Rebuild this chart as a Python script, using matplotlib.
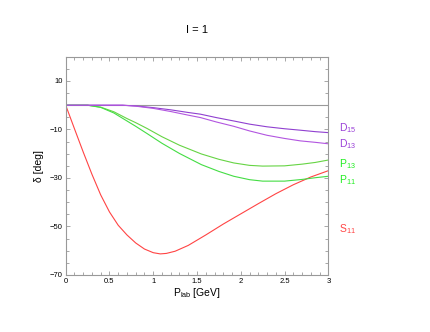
import matplotlib
matplotlib.use('Agg')
import matplotlib.pyplot as plt
from matplotlib.ticker import MultipleLocator

plt.rcParams['font.family'] = ['Liberation Sans', 'DejaVu Sans']
plt.rcParams['mathtext.fontset'] = 'custom'
plt.rcParams['mathtext.rm'] = 'Liberation Sans'
plt.rcParams['mathtext.it'] = 'Liberation Sans:italic'

# phase shifts, delta [deg] vs P_lab [GeV]
s11_p = [0, 0.1, 0.2, 0.3, 0.4, 0.5, 0.6, 0.7, 0.8, 0.9, 1.0, 1.08, 1.15, 1.25,
         1.4, 1.6, 1.8, 2.0, 2.2, 2.4, 2.6, 2.8, 3.0]
s11_d = [0, -9.7, -19.3, -28.5, -37, -44, -49.5, -53.5, -56.8, -59.3, -60.8, -61.3,
         -61.1, -60.2, -57.8, -53.5, -49, -44.8, -40.6, -36.5, -32.8, -29.6, -27]

p_p = [0, 0.25, 0.4, 0.55, 0.7, 0.8, 0.93, 1.1, 1.3, 1.55, 1.75, 1.92, 2.1, 2.25,
       2.5, 2.7, 2.85, 3.0]
p13_d = [0, 0, -0.8, -2.7, -5.5, -7.2, -9.6, -13.0, -16.5, -20.1, -22.3, -23.8,
         -24.8, -25.1, -25.0, -24.3, -23.6, -22.6]
p11_d = [0, 0, -0.9, -3.2, -6.5, -8.7, -11.7, -15.7, -19.9, -24.5, -27.3, -29.3,
         -30.7, -31.3, -31.3, -30.6, -29.9, -29.3]

d_p = [0, 0.65, 0.8, 1.0, 1.2, 1.4, 1.54, 1.72, 1.92, 2.1, 2.3, 2.5, 2.68, 2.85, 3.0]
d15_d = [0, 0, -0.3, -1.0, -1.9, -3.0, -3.7, -5.1, -6.5, -7.8, -8.9, -9.7, -10.3,
         -10.9, -11.3]
d13_d = [0, 0, -0.4, -1.3, -2.6, -4.1, -5.1, -6.9, -8.7, -10.6, -12.4, -13.7,
         -14.7, -15.3, -15.9]

labels = [r'D$_{\mathrm{15}}$', r'D$_{\mathrm{13}}$', r'P$_{\mathrm{13}}$',
          r'P$_{\mathrm{11}}$', r'S$_{\mathrm{11}}$']
label_y = [-10.6, -17.4, -25.4, -32.0, -52.5]

x_ticks = [0, 0.5, 1, 1.5, 2, 2.5, 3]
x_ticklabels = ['0', '0.5', '1', '1.5', '2', '2.5', '3']
y_ticks = [-70, -50, -30, -10, 10]
y_ticklabels = ['\u221270', '\u221250', '\u221230', '\u221210', '10']

c_red = '#ff4444'
c_green = '#44dd44'
c_d15 = '#9040d0'
c_d13 = '#b255e0'
c_green_lab = '#22ee22'
c_purple_lab = '#9a40d8'

fig = plt.figure(figsize=(4.3, 3.32), dpi=100)
ax = fig.add_axes([0.1528, 0.1717, 0.6107, 0.6575])

ax.axhline(0, color='#999999', lw=0.8, zorder=1)
ax.plot(s11_p, s11_d, color=c_red, lw=0.8)
ax.plot(p_p, p13_d, color='#66d444', lw=0.8)
ax.plot(p_p, p11_d, color=c_green, lw=0.8)
ax.plot(d_p, d15_d, color=c_d15, lw=0.8)
ax.plot(d_p, d13_d, color=c_d13, lw=0.8)

label_colors = [c_purple_lab, c_purple_lab, c_green_lab, c_green_lab, c_red]
for txt, yy, cc in zip(labels, label_y, label_colors):
    ax.text(1.04, yy, txt, transform=ax.get_yaxis_transform(), color=cc,
            fontsize=7.5, va='baseline', ha='left')

ax.set_xlim(0, 3)
ax.set_ylim(-70, 20)
ax.set_xticks(x_ticks, x_ticklabels)
ax.xaxis.set_minor_locator(MultipleLocator(0.1))
ax.set_yticks(y_ticks, y_ticklabels)
ax.yaxis.set_minor_locator(MultipleLocator(5))

ax.tick_params(which='both', direction='in', top=True, right=True,
               color='#999999', labelsize=5.5, width=0.6)
ax.tick_params(which='major', length=3, pad=2)
ax.tick_params(which='minor', length=2)
for sp in ax.spines.values():
    sp.set_color('#999999')
    sp.set_linewidth(0.8)

ax.set_xlabel(r'P$_{\mathrm{lab}}$ [GeV]', fontsize=7.5, labelpad=1)
ax.set_ylabel('\u03b4 [deg]', fontsize=7.5, labelpad=4)
ax.set_title('I = 1', fontsize=8, pad=17)

fig.savefig('out.png', dpi=100)
